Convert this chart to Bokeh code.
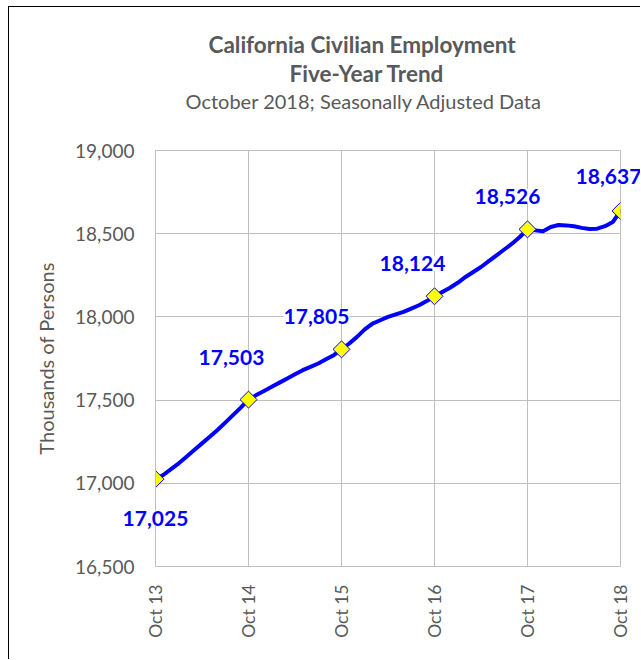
from bokeh.plotting import figure
from bokeh.models import (ColumnDataSource, Label, FixedTicker, Title,
                          NumeralTickFormatter, Range1d)
from bokeh.embed import file_html
from bokeh.resources import INLINE

# ---- data (thousands of persons, monthly Oct 2013 .. Oct 2018) ----
employment = [
    17025, 17050, 17085, 17120, 17160, 17200, 17240, 17280, 17320, 17365, 17410, 17455,
    17503, 17530, 17555, 17580, 17605, 17630, 17655, 17680, 17700, 17720, 17745, 17770,
    17805, 17840, 17880, 17925, 17960, 17980, 18000, 18015, 18030, 18050, 18070, 18095,
    18124, 18150, 18175, 18205, 18240, 18270, 18300, 18335, 18370, 18405, 18440, 18480,
    18526, 18520, 18515, 18540, 18552, 18550, 18545, 18535, 18528, 18530, 18545, 18570,
    18637,
]
month_index = list(range(len(employment)))
tick_positions = [0, 12, 24, 36, 48, 60]
tick_labels = ["Oct 13", "Oct 14", "Oct 15", "Oct 16", "Oct 17", "Oct 18"]
y_ticks = [16500, 17000, 17500, 18000, 18500, 19000]

# label placement offsets (screen px), styling only
label_dx = [0, -17, -25, -22, -20, -12]
label_dy = [-39, 42, 33, 33, 33, 34]
# which panel holds each label (edge labels are placed outside the clipped frame)
label_panel = ["below", "center", "center", "center", "center", "above"]

FONT = "Lato"
GRAY = "#595959"
BLUE = "#0000FF"

p = figure(width=632, height=653, output_backend="svg", toolbar_location=None,
           x_range=Range1d(0, 60), y_range=Range1d(16500, 19000),
           min_border_left=146, min_border_right=21, min_border_top=143,
           min_border_bottom=94, title=None)
p.margin = (6, 0, 0, 8)
p.styles = {"border-left": "1px solid #000000", "border-top": "1px solid #000000"}
p.background_fill_color = "white"
p.border_fill_color = "white"
p.outline_line_color = "#BFBFBF"

line_src = ColumnDataSource(dict(x=month_index, y=employment))
p.line("x", "y", source=line_src, line_color=BLUE, line_width=4,
       line_join="round", line_cap="round")

pts = ColumnDataSource(dict(
    x=tick_positions,
    y=[employment[i] for i in tick_positions],
))
p.scatter("x", "y", source=pts, marker="square", angle=0.785398, size=12,
          fill_color="#FFFF00", line_color=BLUE, line_width=1)

# axes
p.xaxis.ticker = FixedTicker(ticks=tick_positions)
p.xaxis.major_label_overrides = {t: l for t, l in zip(tick_positions, tick_labels)}
p.xaxis.major_label_orientation = 3.14159265 / 2
p.yaxis.ticker = FixedTicker(ticks=y_ticks)
p.yaxis.formatter = NumeralTickFormatter(format="0,0")
for ax in (p.xaxis[0], p.yaxis[0]):
    ax.major_tick_line_color = None
    ax.minor_tick_line_color = None
    ax.axis_line_color = "#BFBFBF"
    ax.major_label_text_font = FONT
    ax.major_label_text_color = GRAY
p.yaxis.major_label_text_font_size = "19px"
p.xaxis.major_label_text_font_size = "17.5px"
p.xaxis.major_label_standoff = 12
p.yaxis.major_label_standoff = 15
p.yaxis.axis_label = "Thousands of Persons"
p.yaxis.axis_label_text_font = FONT
p.yaxis.axis_label_text_font_size = "20px"
p.yaxis.axis_label_text_font_style = "normal"
p.yaxis.axis_label_text_color = GRAY
p.yaxis.axis_label_standoff = 14

p.xgrid.ticker = FixedTicker(ticks=tick_positions)
p.ygrid.ticker = FixedTicker(ticks=y_ticks)
p.xgrid.grid_line_color = "#BFBFBF"
p.ygrid.grid_line_color = "#BFBFBF"

# titles (added innermost first)
p.add_layout(Title(text=" ", text_font_size="32px", standoff=0), "above")
p.add_layout(Title(text="October 2018; Seasonally Adjusted Data", align="left", offset=30,
                   text_font=FONT, text_font_size="20px", text_font_style="normal",
                   text_color=GRAY, standoff=0), "above")
p.add_layout(Title(text="Five-Year Trend", align="left", offset=134,
                   text_font=FONT, text_font_size="22.5px", text_font_style="bold",
                   text_color=GRAY, standoff=0), "above")
p.add_layout(Title(text="California Civilian Employment", align="left", offset=53,
                   text_font=FONT, text_font_size="22.5px", text_font_style="bold",
                   text_color=GRAY, standoff=0), "above")

# data labels
for i, t in enumerate(tick_positions):
    lab = Label(x=t, y=employment[t], text="{:,}".format(employment[t]),
                x_offset=label_dx[i], y_offset=label_dy[i],
                text_align="center", text_baseline="middle",
                text_font=FONT, text_font_style="bold", text_font_size="21px",
                text_color=BLUE, background_fill_color="white")
    p.add_layout(lab, label_panel[i])

open("out.html", "w").write(file_html(p, INLINE))
